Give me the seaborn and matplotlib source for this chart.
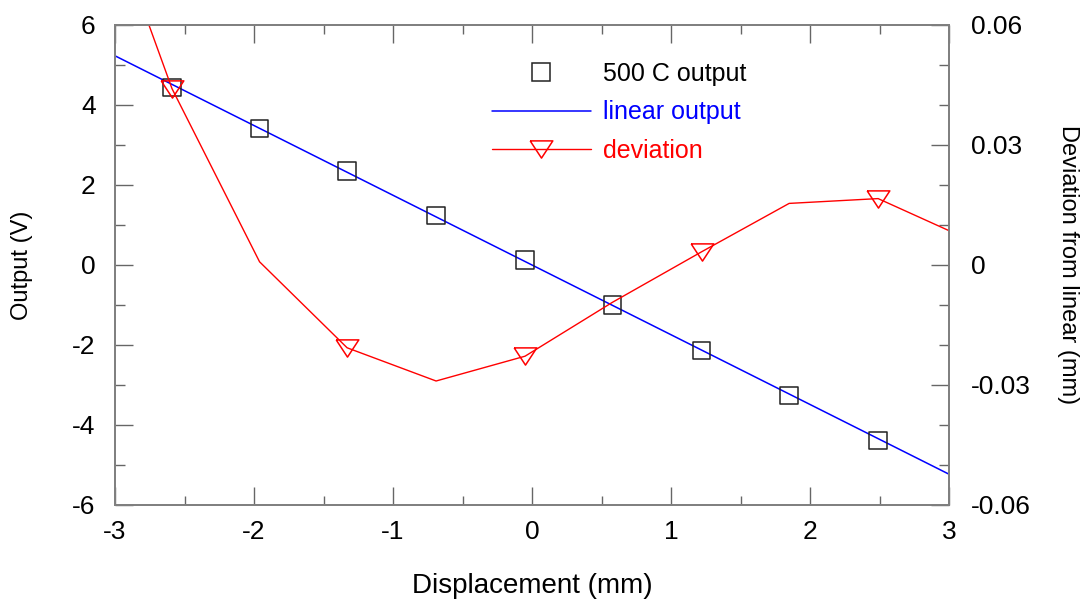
import numpy as np
import pandas as pd
import matplotlib
matplotlib.use('Agg')
import matplotlib.pyplot as plt
from matplotlib.lines import Line2D
from matplotlib.ticker import MultipleLocator
import seaborn as sns

sns.set_style('ticks')
plt.rcParams['font.family'] = ['Liberation Sans', 'DejaVu Sans']
plt.rcParams['text.color'] = 'black'
plt.rcParams['axes.labelcolor'] = 'black'

# datos
disp = [-2.59, -1.96, -1.33, -0.69, -0.05, 0.58, 1.22, 1.85, 2.49]
output_500c = [4.43, 3.42, 2.35, 1.24, 0.125, -1.0, -2.13, -3.27, -4.38]

lin_x = [-3.0, 3.0]
lin_y = [5.23, -5.23]

dev_x = [-3.225, -2.59, -1.96, -1.33, -0.69, -0.05, 0.58, 1.22, 1.85, 2.49, 3.12]
dev_y = [0.105, 0.0441, 0.0008, -0.0207, -0.029, -0.0228, -0.0093, 0.0033, 0.0154, 0.0166, 0.0067]
dev_marks = [1, 3, 5, 7, 9]

x_ticks = [-3, -2, -1, 0, 1, 2, 3]
y_ticks = [-6, -4, -2, 0, 2, 4, 6]
y2_ticks = [-0.06, -0.03, 0, 0.03, 0.06]
y2_labels = ['-0.06', '-0.03', '0', '0.03', '0.06']

df_sq = pd.DataFrame({'x': disp, 'y': output_500c})
df_lin = pd.DataFrame({'x': lin_x, 'y': lin_y})
df_dev = pd.DataFrame({'x': dev_x, 'y': dev_y})

# triangulo invertido mas ancho que alto
tri = [(-1, 0.76), (1, 0.76), (0, -0.76), (-1, 0.76)]

fig = plt.figure(figsize=(10.86, 6.01), dpi=100)
ax = fig.add_axes([115/1086, 1-505/601, 834/1086, 480/601])
ax2 = ax.twinx()

sns.lineplot(data=df_lin, x='x', y='y', ax=ax, color='#0000ff', linewidth=1.1)
sns.scatterplot(data=df_sq, x='x', y='y', ax=ax, marker='s', s=12.5**2,
                facecolor='none', edgecolor='#222222', linewidth=1.1, zorder=3)

sns.lineplot(data=df_dev, x='x', y='y', ax=ax2, color='#ff0000', linewidth=1.0,
             sort=False, marker=tri, markersize=16.3, markevery=dev_marks,
             markerfacecolor='none', markeredgecolor='#ff0000', markeredgewidth=1.1)

ax.set_xlim(-3, 3)
ax.set_ylim(-6, 6)
ax2.set_ylim(-0.06, 0.06)

ax.set_xticks(x_ticks)
ax.set_xticklabels([str(v) for v in x_ticks])
ax.set_yticks(y_ticks)
ax.set_yticklabels([str(v) for v in y_ticks])
ax.xaxis.set_minor_locator(MultipleLocator(0.5))
ax.yaxis.set_minor_locator(MultipleLocator(1))
ax2.set_yticks(y2_ticks)
ax2.set_yticklabels(y2_labels)
ax2.yaxis.set_minor_locator(MultipleLocator(0.01))

tick_col = '#666666'
ax.tick_params(axis='x', which='major', direction='in', top=True, bottom=True,
               length=13, width=1, color=tick_col, labelsize=19, labelcolor='black', pad=11)
ax.tick_params(axis='x', which='minor', direction='in', top=True, bottom=True,
               length=6.5, width=1, color=tick_col)
ax.tick_params(axis='y', which='major', direction='in', left=True, right=False,
               length=13, width=1, color=tick_col, labelsize=19, labelcolor='black', pad=14)
ax.tick_params(axis='y', which='minor', direction='in', left=True, right=False,
               length=7, width=1, color=tick_col)
ax2.tick_params(axis='y', which='major', direction='in', right=True, left=False,
                length=13, width=1, color=tick_col, labelsize=19, labelcolor='black', pad=16)
ax2.tick_params(axis='y', which='minor', direction='in', right=True, left=False,
                length=7, width=1, color=tick_col)

for a in (ax, ax2):
    for s in a.spines.values():
        s.set_color('#808080')
        s.set_linewidth(1.3)

ax.set_xlabel('Displacement (mm)', fontsize=20, va='center')
ax.xaxis.set_label_coords(0.5, -0.169)
ax.set_ylabel('Output (V)', fontsize=17, va='center')
ax.yaxis.set_label_coords(-0.1115, 0.5)
ax2.set_ylabel('Deviation from linear (mm)', fontsize=17, rotation=-90, va='center')
ax2.yaxis.set_label_coords(1.143, 0.5)

handles = [
    Line2D([], [], linestyle='none', marker='s', markersize=12.5,
           markerfacecolor='none', markeredgecolor='#222222', markeredgewidth=1.1),
    Line2D([], [], color='#0000ff', linewidth=1.1),
    Line2D([], [], color='#ff0000', linewidth=1.0, marker=tri, markersize=16.3,
           markerfacecolor='none', markeredgecolor='#ff0000', markeredgewidth=1.1),
]
labels = ['500 C output', 'linear output', 'deviation']
leg = ax.legend(handles, labels, loc='upper left', frameon=False, fontsize=18,
                bbox_to_anchor=(491.7/1086, 1-62/601), bbox_transform=fig.transFigure,
                borderpad=0, borderaxespad=0, handlelength=3.96, handletextpad=0.48,
                labelspacing=0.58, labelcolor=['black', '#0000ff', '#ff0000'])

fig.savefig('out.png', dpi=100)
